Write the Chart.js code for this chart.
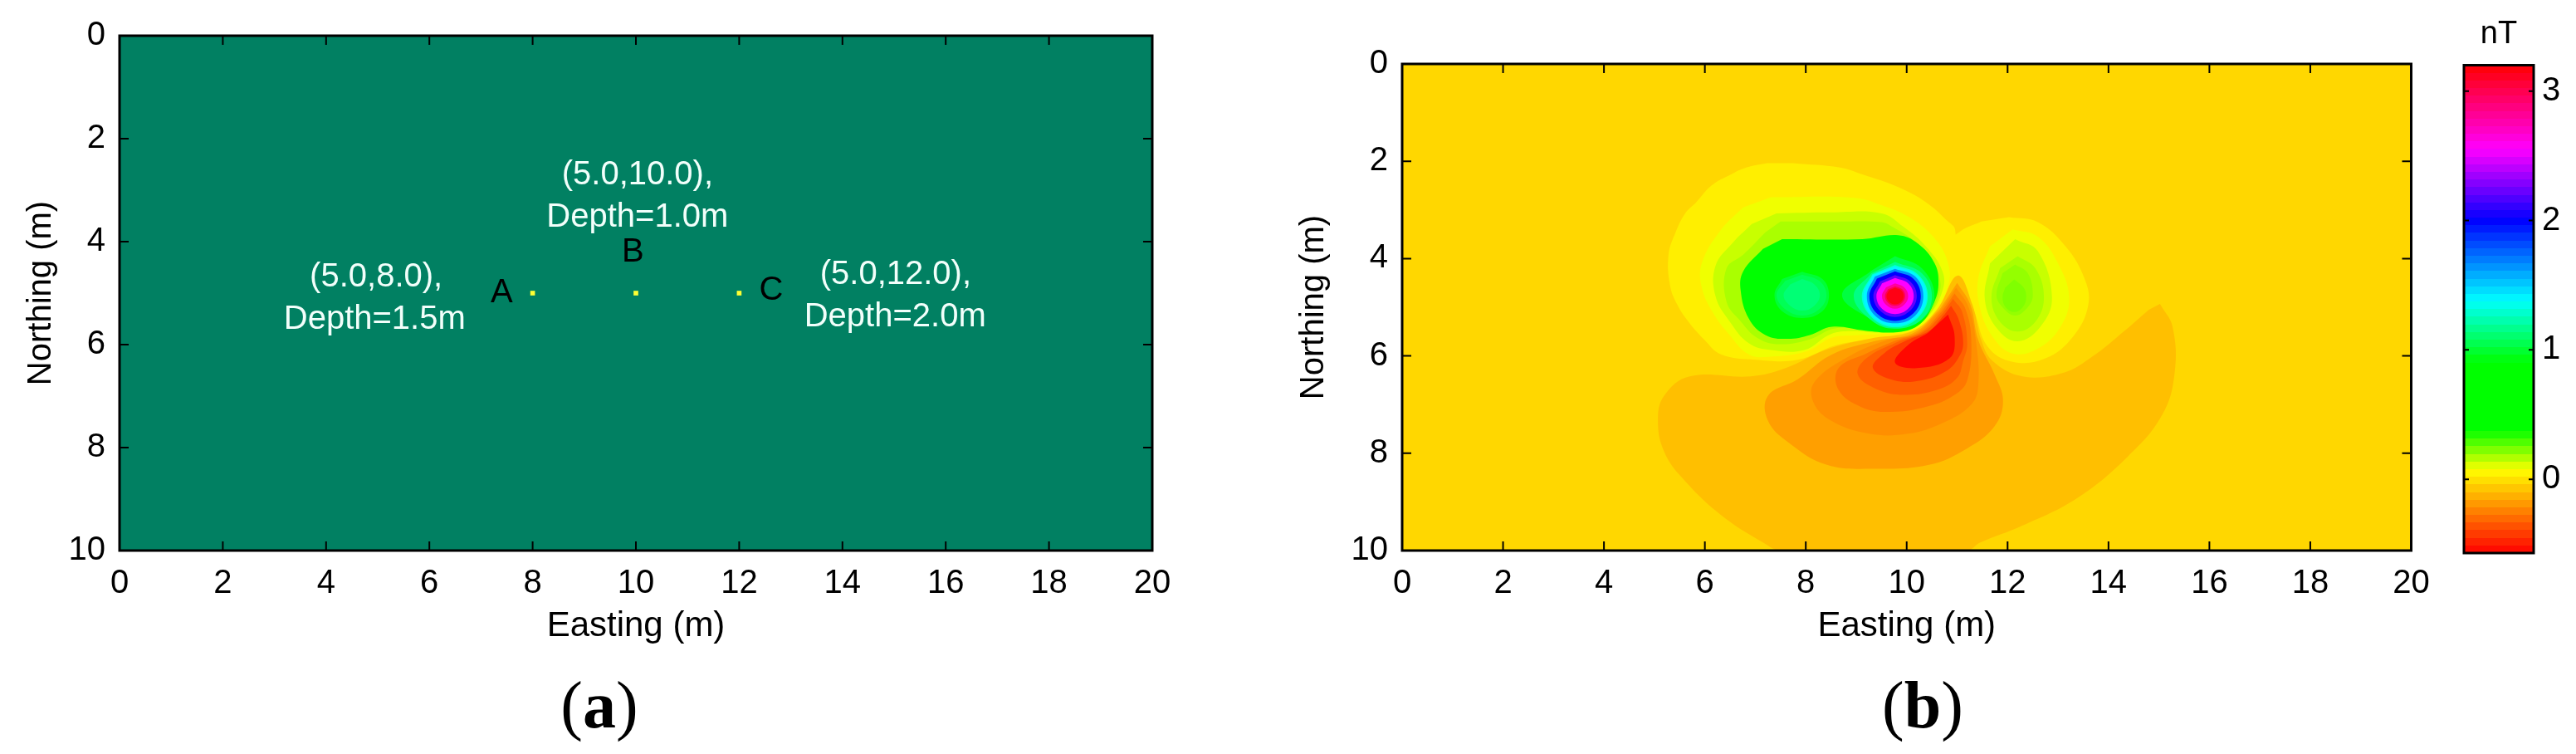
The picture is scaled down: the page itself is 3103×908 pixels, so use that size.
<!DOCTYPE html>
<html>
<head>
<meta charset="utf-8">
<title>Easting / Northing anomaly</title>
<script src="https://cdn.jsdelivr.net/npm/chart.js@4"></script>
<style>
  html, body { margin: 0; padding: 0; background: #fff; }
  body { position: relative; width: 3103px; height: 908px; overflow: hidden; }
  canvas { position: absolute; top: 0; }
  #chart-a { left: 0; }
  #chart-b { left: 1500px; }
  #chart-bar { left: 2950px; }
  .cap { position: absolute; top: 803px; font: 80px/92px "Liberation Serif", serif; color: #000; transform: translateX(-50%); }
  .cap b { font-weight: bold; }
</style>
</head>
<body>
<canvas id="chart-a" width="1500" height="780"></canvas>
<canvas id="chart-b" width="1450" height="780"></canvas>
<canvas id="chart-bar" width="153" height="780"></canvas>
<div class="cap" style="left:722px">(<b>a</b>)</div>
<div class="cap" style="left:2316px">(<b>b</b>)</div>
<script>
// axis ticks
const eastingTicks = [0, 2, 4, 6, 8, 10, 12, 14, 16, 18, 20];
const northingTicks = [0, 2, 4, 6, 8, 10];
const barTicks = [0, 1, 2, 3];
const barRange = [-0.57, 3.2];

// panel (a): source positions and their labels
const sourceEasting = [8, 10, 12];
const sourceNorthing = [5, 5, 5];
const noteTexts = ['(5.0,10.0),', 'Depth=1.0m', '(5.0,8.0),', 'Depth=1.5m', '(5.0,12.0),', 'Depth=2.0m', 'A', 'B', 'C'];
const noteEasting = [10.03, 10.03, 4.97, 4.94, 15.03, 15.02, 7.4, 9.94, 12.62];
const noteNorthing = [2.89, 3.71, 4.87, 5.69, 4.82, 5.65, 5.18, 4.39, 5.13];

// colour bar: value -> colour
const paletteValues = [-0.57, 0.07, 0.38, 0.9, 1.38, 2.0, 2.55, 3.2];
const paletteColors = [[255,0,0], [255,255,0], [0,255,0], [0,255,0], [0,255,255], [0,0,255], [255,0,255], [255,0,0]];
const backgroundLevel = -0.03;

// panel (b): contours, [easting, northing], nT
const leftLobe0 = [[7.75,2.04],[8.68,2.13],[9.12,2.27],[9.83,2.53],[10.38,2.84],[10.82,3.24],[10.96,3.41],[10.95,4.3],[10.75,4.9],[10.3,5.4],[9.5,5.62],[8.6,5.78],[7.84,6.08],[7,6.08],[6.32,5.97],[6,5.68],[5.67,5.29],[5.45,4.94],[5.31,4.55],[5.28,3.92],[5.42,3.46],[5.61,3.07],[5.83,2.84],[6.13,2.5],[6.52,2.27],[6.82,2.13],[7.23,2.04]];
const leftLobe1 = [[7.31,2.74],[8.96,2.75],[9.5,2.9],[10.05,3.15],[10.55,3.58],[10.82,4.09],[10.82,4.55],[10.49,5.17],[10.1,5.47],[9.5,5.55],[8.9,5.58],[8.5,5.63],[8,5.91],[7.25,6.02],[6.87,5.97],[6.49,5.57],[6.16,5.11],[5.94,4.6],[5.94,4.09],[6.32,3.41],[6.76,2.95]];
const leftLobe2 = [[7.42,3.07],[8.5,3.05],[9.5,3.07],[9.94,3.35],[10.38,3.75],[10.71,4.26],[10.71,4.66],[10.44,5.17],[10.05,5.45],[9.5,5.52],[8.9,5.49],[8.5,5.55],[7.97,5.88],[7.31,5.88],[6.87,5.74],[6.49,5.29],[6.21,4.77],[6.21,4.15],[6.54,3.69],[6.93,3.29]];
const leftLobe3 = [[7.5,3.24],[8.5,3.24],[9.5,3.25],[9.72,3.35],[10.16,3.64],[10.49,3.98],[10.66,4.43],[10.63,4.77],[10.38,5.22],[10.02,5.44],[9.5,5.46],[8.9,5.42],[8.52,5.45],[8.08,5.66],[7.47,5.76],[7.04,5.63],[6.71,5.29],[6.43,4.89],[6.43,4.2],[6.76,3.92],[7.2,3.46]];
const leftLobe4 = [[7.53,3.6],[9.12,3.6],[9.83,3.52],[10.22,3.69],[10.55,4.09],[10.63,4.49],[10.55,4.89],[10.27,5.34],[9.83,5.51],[9.18,5.48],[8.52,5.4],[8.08,5.57],[7.64,5.65],[7.2,5.57],[6.87,5.23],[6.71,4.66],[6.76,4.26],[7.15,3.8]];
const rightLobe0 = [[12.03,3.15],[12.6,3.25],[13.15,3.75],[13.52,4.4],[13.6,4.95],[13.3,5.6],[12.75,6.05],[12.1,6.12],[11.6,5.8],[11.3,5],[10.9,4.4],[10.85,3.7],[11.05,3.45],[11.48,3.24]];
const rightLobe1 = [[12.1,3.4],[12.6,3.55],[13,4.1],[13.22,4.8],[13.05,5.4],[12.6,5.85],[12.1,5.95],[11.7,5.6],[11.45,5],[11.42,4.4],[11.65,3.75]];
const rightLobe2 = [[12.15,3.6],[12.6,3.85],[12.88,4.8],[12.65,5.4],[12.2,5.7],[11.8,5.45],[11.55,4.85],[11.65,4.1]];
const rightLobe3 = [[12.2,3.95],[12.55,4.2],[12.72,4.8],[12.55,5.3],[12.2,5.5],[11.85,5.3],[11.68,4.8],[11.85,4.2]];
const rightLobe4 = [[12.15,4.12],[12.4,4.3],[12.5,4.75],[12.4,5],[12.15,5.17],[11.9,5],[11.78,4.75],[11.9,4.3]];
const rightLobe5 = [[12.13,4.43],[12.32,4.6],[12.37,4.8],[12.3,5],[12.13,5.1],[11.96,5],[11.9,4.8],[11.95,4.6]];
const lowBand0 = [[15.02,4.93],[15.27,5.4],[15.31,6.36],[15.06,7.22],[14.38,8.07],[13.38,8.92],[12.29,9.49],[11.45,9.84],[11.2,10],[7.5,10],[7.16,9.84],[6.32,9.27],[5.57,8.53],[5.19,7.96],[5.07,7.33],[5.19,6.82],[5.7,6.42],[6.91,6.42],[7.6,6.25],[8.41,5.87],[9.3,5.64],[10.1,5.5],[10.6,5.05],[11.01,4.35],[11.3,4.94],[11.48,5.68],[11.7,6.1],[12.3,6.42],[13.1,6.35],[13.7,6],[14.3,5.5],[14.8,5.05]];
const lowBand1 = [[11,4.5],[11.26,4.94],[11.42,5.68],[11.75,6.4],[11.91,6.93],[11.74,7.45],[11.2,7.9],[10.44,8.24],[9.35,8.32],[8.42,8.24],[7.67,7.79],[7.25,7.33],[7.25,6.82],[7.84,6.48],[8.5,5.98],[9.35,5.7],[10.15,5.52],[10.65,5.05]];
const lowBand2 = [[10.98,4.6],[11.22,4.98],[11.37,5.68],[11.42,6.6],[11.28,7],[10.69,7.39],[10.02,7.6],[9.26,7.6],[8.5,7.33],[8.15,6.95],[8.17,6.54],[8.84,6.02],[9.6,5.68],[10.2,5.53],[10.67,5.07]];
const lowBand3 = [[10.95,4.72],[11.17,5.05],[11.28,5.68],[11.2,6.5],[10.95,6.8],[10.44,7.03],[9.68,7.15],[9.1,7.05],[8.65,6.7],[8.65,6.25],[9.2,5.95],[9.8,5.68],[10.3,5.5],[10.7,5.08]];
const lowBand4 = [[10.92,4.83],[11.1,5.1],[11.2,5.75],[11.12,6.1],[11,6.45],[10.6,6.7],[9.95,6.8],[9.4,6.68],[9.03,6.38],[9.2,6.05],[9.8,5.72],[10.35,5.5],[10.72,5.12]];
const lowBand5 = [[10.88,4.97],[11.03,5.25],[11.12,5.75],[11.02,6.05],[10.8,6.3],[10.3,6.5],[9.75,6.5],[9.33,6.25],[9.55,5.95],[10,5.68],[10.45,5.48],[10.75,5.15]];
const lowBand6 = [[10.82,5.15],[10.95,5.6],[10.85,6.05],[10.2,6.25],[9.77,6.14],[10,5.8],[10.42,5.53]];
const sideSpot0 = [[7.93,4.27],[8.33,4.42],[8.46,4.75],[8.33,5.08],[7.93,5.22],[7.53,5.08],[7.38,4.75],[7.53,4.42]];
const sideSpot1 = [[7.93,4.33],[8.27,4.46],[8.41,4.75],[8.27,5.04],[7.93,5.17],[7.59,5.04],[7.42,4.75],[7.59,4.46]];
const sideSpot2 = [[7.93,4.42],[8.17,4.53],[8.28,4.75],[8.17,4.97],[7.93,5.07],[7.69,4.97],[7.56,4.75],[7.69,4.53]];
const peak0 = [[9.77,3.95],[10.3,4.2],[10.55,4.77],[10.3,5.25],[9.77,5.42],[9.3,5.25],[8.72,4.75],[9.3,4.25]];
const peak1 = [[9.77,4.07],[10.3,4.3],[10.5,4.77],[10.3,5.25],[9.77,5.44],[9.3,5.27],[8.95,4.77],[9.3,4.3]];
const peak2 = [[9.77,4.13],[10.22,4.32],[10.42,4.77],[10.22,5.22],[9.77,5.41],[9.32,5.22],[9.11,4.77],[9.32,4.32]];
const peak3 = [[9.77,4.16],[10.21,4.34],[10.4,4.77],[10.21,5.2],[9.77,5.38],[9.33,5.2],[9.14,4.77],[9.33,4.34]];
const peak4 = [[9.77,4.21],[10.17,4.37],[10.33,4.77],[10.17,5.17],[9.77,5.33],[9.37,5.17],[9.21,4.77],[9.37,4.37]];
const peak5 = [[9.77,4.26],[10.13,4.41],[10.28,4.77],[10.13,5.13],[9.77,5.28],[9.41,5.13],[9.26,4.77],[9.41,4.41]];
const peak6 = [[9.77,4.34],[10.07,4.47],[10.2,4.77],[10.07,5.07],[9.77,5.2],[9.47,5.07],[9.34,4.77],[9.47,4.47]];
const peak7 = [[9.77,4.4],[10.03,4.51],[10.14,4.77],[10.03,5.03],[9.77,5.14],[9.51,5.03],[9.4,4.77],[9.51,4.51]];
const peak8 = [[9.77,4.51],[9.95,4.59],[10.03,4.77],[9.95,4.95],[9.77,5.03],[9.59,4.95],[9.51,4.77],[9.59,4.59]];
const peak9 = [[9.77,4.57],[9.91,4.63],[9.97,4.77],[9.91,4.91],[9.77,4.97],[9.63,4.91],[9.57,4.77],[9.63,4.63]];
const peak10 = [[9.77,4.6],[9.89,4.65],[9.94,4.77],[9.89,4.89],[9.77,4.94],[9.65,4.89],[9.6,4.77],[9.65,4.65]];

// same order: back to front
const contourShapes = [leftLobe0, leftLobe1, leftLobe2, leftLobe3, leftLobe4,
  rightLobe0, rightLobe1, rightLobe2, rightLobe3, rightLobe4, rightLobe5,
  lowBand0, lowBand1, lowBand2, lowBand3, lowBand4, lowBand5, lowBand6,
  sideSpot0, sideSpot1, sideSpot2,
  peak0, peak1, peak2, peak3, peak4, peak5, peak6, peak7, peak8, peak9, peak10];
const contourLevels = [0.03, 0.088, 0.137, 0.173, 0.42,
  0.03, 0.088, 0.137, 0.173, 0.2, 0.225,
  -0.09, -0.17, -0.21, -0.27, -0.33, -0.42, -0.55,
  1.0, 1.06, 1.12,
  1.02, 1.15, 1.3, 1.4, 1.65, 2, 2.2, 2.55, 2.8, 3, 3.15];

function levelColor(v) {
  let i = 0;
  while (i < paletteValues.length - 2 && v > paletteValues[i + 1]) i++;
  const t = Math.min(1, Math.max(0, (v - paletteValues[i]) / (paletteValues[i + 1] - paletteValues[i])));
  const c = paletteColors[i].map((a, k) => Math.round(a + (paletteColors[i + 1][k] - a) * t));
  return `rgb(${c[0]},${c[1]},${c[2]})`;
}

const SANS = '"Liberation Sans", Arial, sans-serif';

// plot background + inward ticks on all four sides, matlab style
const framePlugin = {
  id: 'frame',
  beforeDatasetsDraw(chart, args, opts) {
    if (!opts.fill) return;
    const a = chart.chartArea, ctx = chart.ctx;
    ctx.save();
    ctx.fillStyle = opts.fill;
    ctx.fillRect(a.left, a.top, a.width, a.height);
    ctx.restore();
  },
  afterDatasetsDraw(chart, args, opts) {
    const a = chart.chartArea, ctx = chart.ctx, { x, y } = chart.scales;
    const len = opts.tick || 11;
    ctx.save();
    ctx.strokeStyle = '#000';
    ctx.lineWidth = opts.tickWidth || 2;
    ctx.beginPath();
    if (!opts.noX) x.ticks.forEach(t => {
      const px = x.getPixelForValue(t.value);
      ctx.moveTo(px, a.top); ctx.lineTo(px, a.top + len);
      ctx.moveTo(px, a.bottom); ctx.lineTo(px, a.bottom - len);
    });
    y.ticks.forEach(t => {
      const py = y.getPixelForValue(t.value);
      ctx.moveTo(a.left, py); ctx.lineTo(a.left + len, py);
      ctx.moveTo(a.right, py); ctx.lineTo(a.right - len, py);
    });
    ctx.stroke();
    ctx.lineWidth = 3;
    ctx.strokeRect(a.left, a.top, a.width, a.height);
    ctx.restore();
  }
};

// text notes on panel (a), placed in data units
const notesPlugin = {
  id: 'notes',
  afterDatasetsDraw(chart) {
    const { x, y } = chart.scales, ctx = chart.ctx;
    ctx.save();
    ctx.font = '40px ' + SANS;
    ctx.textAlign = 'center';
    ctx.textBaseline = 'alphabetic';
    noteTexts.forEach((txt, i) => {
      ctx.fillStyle = txt.length === 1 ? '#000' : '#f2fffb';
      ctx.fillText(txt, x.getPixelForValue(noteEasting[i]), y.getPixelForValue(noteNorthing[i]));
    });
    ctx.restore();
  }
};

function panelOptions(yWidth, pad, frame) {
  return {
    responsive: false,
    animation: false,
    devicePixelRatio: 1,
    layout: { padding: pad },
    plugins: { legend: { display: false }, tooltip: { enabled: false }, frame },
    scales: {
      x: {
        type: 'linear', min: 0, max: 20,
        afterBuildTicks: s => { s.ticks = eastingTicks.map(v => ({ value: v })); },
        afterFit: s => { s.height = 117; },
        grid: { display: false }, border: { display: false },
        ticks: { color: '#000', padding: 8, maxRotation: 0, font: { family: SANS, size: 40 } },
        title: { display: true, text: 'Easting (m)', color: '#000', padding: { top: 0, bottom: 0 }, font: { family: SANS, size: 42 } }
      },
      y: {
        type: 'linear', min: 0, max: 10, reverse: true,
        afterBuildTicks: s => { s.ticks = northingTicks.map(v => ({ value: v })); },
        afterFit: s => { s.width = yWidth; },
        grid: { display: false }, border: { display: false },
        ticks: { color: '#000', padding: 9, font: { family: SANS, size: 40 } },
        title: { display: true, text: 'Northing (m)', color: '#000', padding: { top: 0, bottom: 0 }, font: { family: SANS, size: 40 } }
      }
    }
  };
}

// panel (a)
const optsA = panelOptions(144, { top: 43, right: 112, left: 0, bottom: 0 }, { fill: '#018062' });
optsA.scales.y.title.padding.top = 26;
new Chart(document.getElementById('chart-a'), {
  type: 'scatter',
  data: { datasets: [{
    label: 'Sources',
    data: sourceEasting.map((e, i) => ({ x: e, y: sourceNorthing[i] })),
    pointStyle: 'rect', pointRadius: 4, backgroundColor: '#ffff33', borderWidth: 0
  }] },
  options: optsA,
  plugins: [framePlugin, notesPlugin]
});

// panel (b): each contour is a closed filled line
const optsB = panelOptions(189, { top: 77, right: 45.5, left: 0, bottom: 0 }, { fill: levelColor(backgroundLevel) });
optsB.scales.y.title.padding.top = 59;
new Chart(document.getElementById('chart-b'), {
  type: 'scatter',
  data: { datasets: contourShapes.map((shape, i) => ({
    label: contourLevels[i] + ' nT',
    data: shape.map(p => ({ x: p[0], y: p[1] })),
    showLine: true, fill: 'shape', tension: 0.4,
    backgroundColor: levelColor(contourLevels[i]),
    borderWidth: 0, pointRadius: 0,
    order: contourShapes.length - i
  })) },
  options: optsB,
  plugins: [framePlugin]
});

// colour bar as one floating bar with a banded gradient
function barGradient(ctx) {
  const chart = ctx.chart;
  if (!chart.chartArea) return '#fff';
  const y = chart.scales.y;
  const g = chart.ctx.createLinearGradient(0, y.getPixelForValue(barRange[0]), 0, y.getPixelForValue(barRange[1]));
  const bands = 64;
  for (let i = 0; i < bands; i++) {
    const col = levelColor(barRange[0] + (barRange[1] - barRange[0]) * (i + 0.5) / bands);
    g.addColorStop(i / bands, col);
    g.addColorStop((i + 1) / bands, col);
  }
  return g;
}
new Chart(document.getElementById('chart-bar'), {
  type: 'bar',
  data: { labels: ['nT'], datasets: [{
    data: [barRange], backgroundColor: barGradient, barPercentage: 1, categoryPercentage: 1, borderWidth: 0
  }] },
  options: {
    responsive: false,
    animation: false,
    devicePixelRatio: 1,
    layout: { padding: { left: 18, right: 0, top: 0, bottom: 114 } },
    plugins: { legend: { display: false }, tooltip: { enabled: false }, frame: { noX: true, tick: 6 } },
    scales: {
      x: {
        position: 'top',
        afterFit: s => { s.height = 78.5; },
        grid: { display: false }, border: { display: false },
        ticks: { color: '#000', padding: 6, font: { family: SANS, size: 38 } }
      },
      y: {
        position: 'right', min: barRange[0], max: barRange[1],
        afterBuildTicks: s => { s.ticks = barTicks.map(v => ({ value: v })); },
        afterFit: s => { s.width = 51; },
        grid: { display: false }, border: { display: false },
        ticks: { color: '#000', padding: 2, font: { family: SANS, size: 40 } }
      }
    }
  },
  plugins: [framePlugin]
});
</script>
</body>
</html>
